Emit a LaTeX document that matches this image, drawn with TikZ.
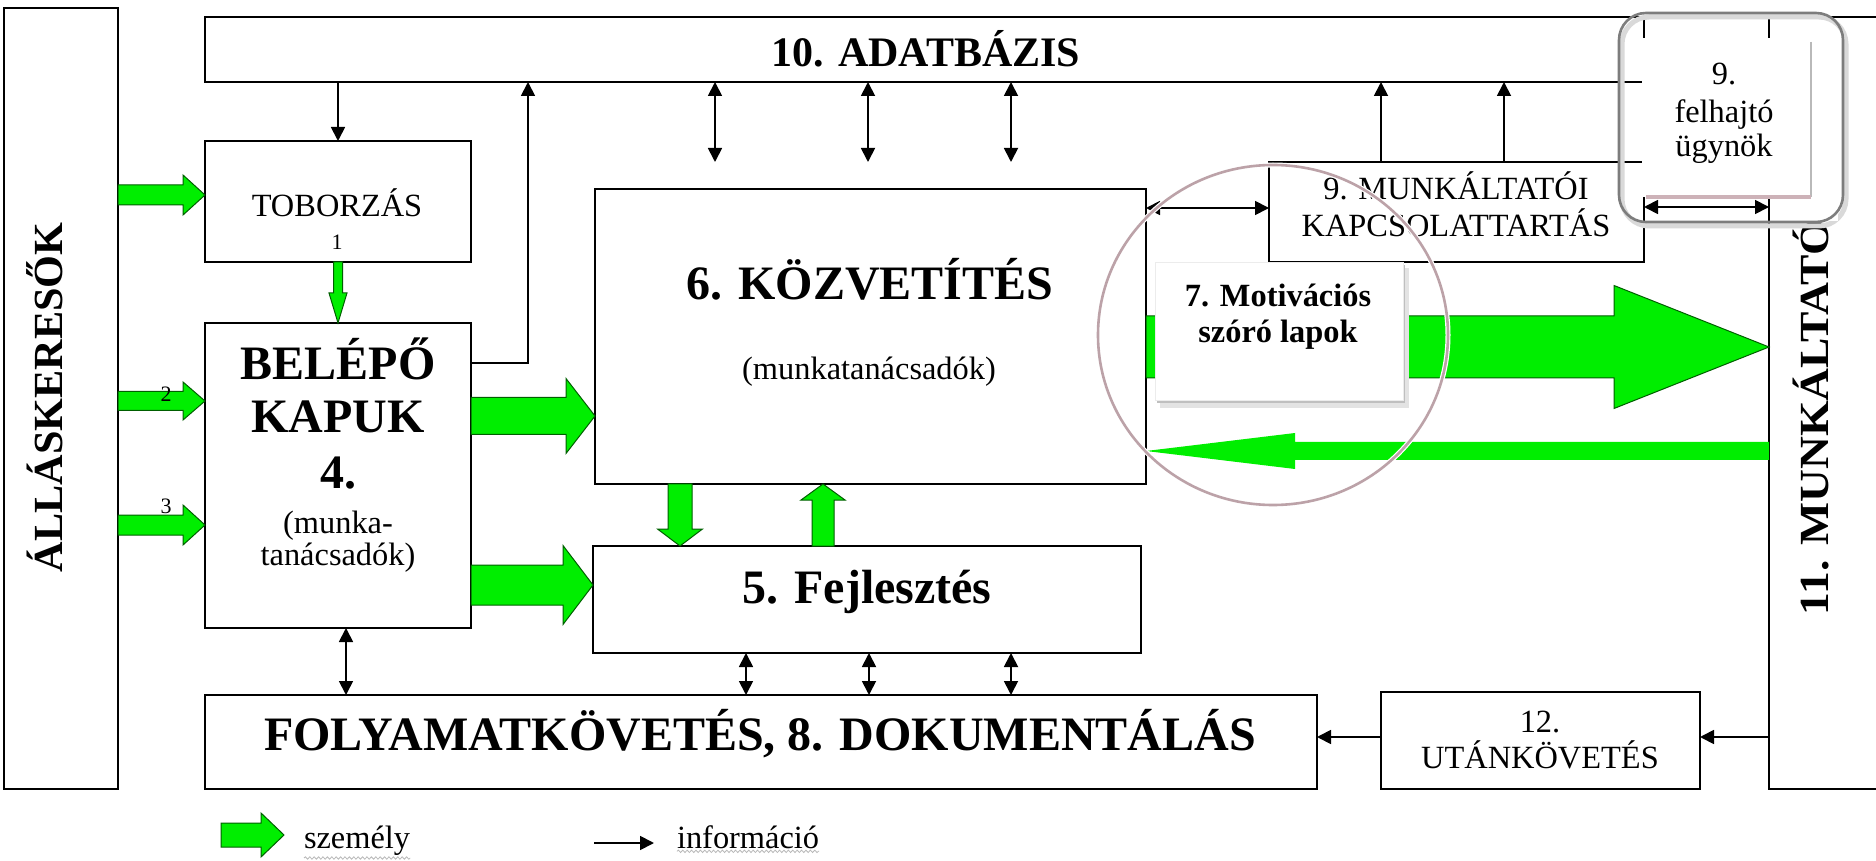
\documentclass[tikz,border=0pt]{standalone}
\usepackage{fontspec}
\setmainfont{Liberation Serif}
\usetikzlibrary{arrows.meta,calc,decorations.pathmorphing}
\definecolor{gfill}{RGB}{0,238,0}
\definecolor{gline}{RGB}{0,95,0}
\definecolor{ellc}{RGB}{188,162,168}
\definecolor{shpink}{RGB}{205,178,184}
\definecolor{hlgray}{RGB}{125,125,125}

% horizontal block arrow: style, start, end, shaft half, head half, head length (signed, px)
\newcommand{\garrowH}[6]{%
  \path[#1] ($#2+(0,{0-(#4)})$) -- ($#3+({0-(#6)},{0-(#4)})$) -- ($#3+({0-(#6)},{0-(#5)})$) -- #3
   -- ($#3+({0-(#6)},#5)$) -- ($#3+({0-(#6)},#4)$) -- ($#2+(0,#4)$) -- cycle;}
% vertical block arrow
\newcommand{\garrowV}[6]{%
  \path[#1] ($#2+({0-(#4)},0)$) -- ($#3+({0-(#4)},{0-(#6)})$) -- ($#3+({0-(#5)},{0-(#6)})$) -- #3
   -- ($#3+(#5,{0-(#6)})$) -- ($#3+(#4,{0-(#6)})$) -- ($#2+(#4,0)$) -- cycle;}

\tikzset{
  bx/.style={draw=black, line width=0.9pt, fill=white, inner sep=0pt, outer sep=0pt},
  boxline/.style={draw=black, line width=0.9pt},
  txt/.style={inner sep=0pt, outer sep=0pt, anchor=base},
  fBig/.style={font=\fontsize{24pt}{28pt}\selectfont\bfseries},
  fDb/.style={font=\fontsize{21pt}{25pt}\selectfont\bfseries},
  fSide/.style={font=\fontsize{20.7pt}{25pt}\selectfont\bfseries},
  fReg/.style={font=\fontsize{16.2pt}{19pt}\selectfont},
  fRegB/.style={font=\fontsize{16.2pt}{19pt}\selectfont\bfseries},
  fTiny/.style={font=\fontsize{11pt}{13pt}\selectfont},
  garrow/.style={fill=gfill, draw=gline, line width=0.5pt, line join=miter},
  garrowplain/.style={fill=gfill},
  infoarr/.style={draw=black, line width=0.9pt, -{Triangle[length=7pt,width=7pt]}},
  infoarrd/.style={draw=black, line width=0.9pt, {Triangle[length=7pt,width=7pt]}-{Triangle[length=7pt,width=7pt]}},
  squig/.style={draw=gray!55, line width=0.4pt, decorate, decoration={snake, segment length=2.2pt, amplitude=0.6pt}}
}

\begin{document}
\begin{tikzpicture}[x=0.5pt, y=-0.5pt]
\useasboundingbox (0,0) rectangle (1876,861);
\fill[white] (0,0) rectangle (1876,861);
\clip (0,0) rectangle (1876,861);

% ---------- boxes ----------
\node[bx, minimum width=57pt, minimum height=390.5pt] (allas) at (61,398.5) {};
\node[bx, minimum width=719.5pt, minimum height=32.5pt] (db) at (924.5,49.5) {};
\node[bx, minimum width=133pt, minimum height=60.5pt] (tob) at (338,201.5) {};
\node[bx, minimum width=133pt, minimum height=152.5pt] (bel) at (338,475.5) {};
\node[bx, minimum width=275.5pt, minimum height=147.5pt] (kozv) at (870.5,336.5) {};
\node[bx, minimum width=274pt, minimum height=53.5pt] (fejl) at (867,599.5) {};
\node[bx, minimum width=556pt, minimum height=47pt] (folyam) at (761,742) {};
\node[bx, minimum width=159.5pt, minimum height=48.5pt] (utan) at (1540.5,740.5) {};
\node[bx, minimum width=187.5pt, minimum height=50pt] (mkoi) at (1456.5,212) {};
\node[bx, minimum width=65.5pt, minimum height=386pt] (mk) at (1834.5,403) {};
\draw[boxline] (db.north east) -- (mk.north west);
\draw[boxline] (db.south east) -- (mkoi.north east);

% ---------- texts ----------
\node[txt, fSide, anchor=base west, rotate=90] (tAllas) at (62,572) {\scalebox{1.02}[1]{ÁLLÁSKERESŐK}};
\node[txt, fSide, anchor=base west, rotate=90] (tMk) at (1828,615) {\scalebox{1.1}[1]{11. MUNKÁLTATÓK}};
\node[txt, fDb] (tDb) at (926,67) {10. ADATBÁZIS};
\node[txt, fReg] (tTob) at (337,217) {TOBORZÁS};
\node[txt, fTiny] (tTob1) at (337,250) {1};
\node[txt, fBig] (tBel1) at (338,380) {BELÉPŐ};
\node[txt, fBig] (tBel2) at (338,433) {KAPUK};
\node[txt, fBig] (tBel3) at (338,488) {4.};
\node[txt, fReg] (tBel4) at (338,533) {(munka-};
\node[txt, fReg] (tBel5) at (338,565) {tanácsadók)};
\node[txt, fBig] (tKozv1) at (870,300) {6. KÖZVETÍTÉS};
\node[txt, fReg] (tKozv2) at (869,380) {(munkatanácsadók)};
\node[txt, fBig] (tFejl) at (867,603) {5. Fejlesztés};
\node[txt, fBig] (tFoly) at (760,750) {FOLYAMATKÖVETÉS, 8. DOKUMENTÁLÁS};
\node[txt, fReg] (tUtan1) at (1540,732) {12.};
\node[txt, fReg] (tUtan2) at (1540,768) {UTÁNKÖVETÉS};
\node[txt, fReg] (tMkoi1) at (1456,200) {9. MUNKÁLTATÓI};
\node[txt, fReg] (tMkoi2) at (1456,237) {KAPCSOLATTARTÁS};

% ---------- information arrows ----------
\draw[infoarr] (db.south -| tob.north) -- (tob.north);
\draw[infoarr] (bel.east |- 0,363) -| (db.south -| 528,0);
\foreach \xx in {715,868,1011} {
  \coordinate (dk\xx) at (\xx,162);
  \draw[infoarrd] (db.south -| \xx,0) -- (dk\xx);
}
\foreach \xx in {1381,1504} {
  \draw[infoarr] (mkoi.north -| \xx,0) -- (db.south -| \xx,0);
}
\draw[infoarrd] (kozv.east |- 0,208) -- (mkoi.west |- 0,208);
\draw[infoarrd] (mkoi.east |- 0,207) -- (mk.west |- 0,207);
\draw[infoarrd] (bel.south -| 346,0) -- (folyam.north -| 346,0);
\foreach \xx in {746,869,1011} {
  \draw[infoarrd] (fejl.south -| \xx,0) -- (folyam.north -| \xx,0);
}
\draw[infoarr] (mk.west |- 0,737) -- (utan.east |- 0,737);
\draw[infoarr] (utan.west |- 0,737) -- (folyam.east |- 0,737);

% ---------- person (green) arrows ----------
\garrowH{garrow}{(allas.east |- 0,195)}{(tob.west |- 0,195)}{10}{20}{22}
\garrowH{garrow}{(allas.east |- 0,401)}{(bel.west |- 0,401)}{9.5}{19}{22}
\garrowH{garrow}{(allas.east |- 0,525)}{(bel.west |- 0,525)}{10}{20}{22}
\garrowV{garrow}{(tob.south)}{(bel.north)}{4.5}{9}{30}
\garrowH{garrow}{(bel.east |- 0,416)}{(kozv.west |- 0,416)}{18.5}{37.5}{29}
\garrowH{garrow}{(bel.east |- 0,585)}{(fejl.west |- 0,585)}{20}{39.5}{30}
\garrowV{garrow}{(kozv.south -| 680,0)}{(fejl.north -| 680,0)}{12}{22.5}{17}
\garrowV{garrow}{(fejl.north -| 823,0)}{(kozv.south -| 823,0)}{11}{22}{-16}
\garrowH{garrow}{(kozv.east |- 0,347)}{(mk.west |- 0,347)}{31}{61.5}{155}
\garrowH{garrowplain}{(mk.west |- 0,451)}{(kozv.east |- 0,451)}{9}{18}{-149}
\node[txt, fTiny] (t2) at (166,401) {2};
\node[txt, fTiny] (t3) at (166,514) {3};

% ---------- 7. motivational flyers ----------
\fill[gray!22] (1160,268) rectangle (1409,408);
\fill[gray!50] (1157,265) rectangle (1405,403);
\node[fill=white, draw=gray!15, line width=0.4pt, inner sep=0pt, minimum width=124pt, minimum height=69pt] (motiv) at (1279,331) {};
\node[txt, fRegB] (tMot1) at (1278,307) {7. Motivációs};
\node[txt, fRegB] (tMot2) at (1278,343) {szóró lapok};

% ---------- 9. felhajtó ügynök ----------
\draw[gray!30, line width=2.5pt, rounded corners=13.5pt] (1622,17) rectangle (1846,226);
\fill[white] (1786,150) rectangle (1838,221);
\node[fill=white, inner sep=0pt, minimum width=98pt, minimum height=79.5pt] (felhw) at (1740,117.5) {};
\draw[gray!55, line width=1pt] (1811,42) -- (1811,197);
\draw[shpink, line width=1.6pt] (1646,197) -- (1811,197);
\node[draw=hlgray, line width=1.3pt, rounded corners=13.5pt, inner sep=0pt, minimum width=112pt, minimum height=104.5pt] (felh) at (1731,117.5) {};
\node[txt, fReg] (tFel1) at (1724,85) {9.};
\node[txt, fReg] (tFel2) at (1724,123) {felhajtó};
\node[txt, fReg] (tFel3) at (1724,157) {ügynök};

% ---------- highlight ellipse ----------
\draw[white, line width=2.5pt] (1273,335) ellipse [x radius=175, y radius=170];
\draw[ellc, line width=1.3pt] (1273,335) ellipse [x radius=175, y radius=170];

% ---------- legend ----------
\coordinate (lgA) at (221,835);
\coordinate (lgB) at (284,835);
\garrowH{garrow}{(lgA)}{(lgB)}{12}{22}{23}
\node[txt, fReg, anchor=base west] (szem) at (304,848) {személy};
\coordinate (liA) at (594,843);
\coordinate (liB) at (654,843);
\draw[infoarr] (liA) -- (liB);
\node[txt, fReg, anchor=base west] (infor) at (677,848) {információ};
\draw[squig] ([yshift=-1.5pt]szem.south west) -- ([yshift=-1.5pt]szem.south east);
\draw[squig] ([yshift=-1.5pt]infor.south west) -- ([yshift=-1.5pt]infor.south east);
\end{tikzpicture}
\end{document}
